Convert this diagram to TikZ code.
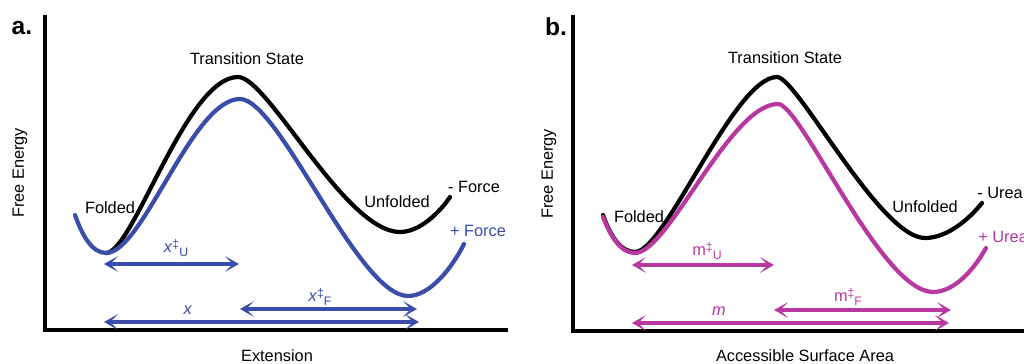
\documentclass[tikz,border=0pt]{standalone}
\usepackage{fontspec}
\setmainfont{Liberation Sans}
\usetikzlibrary{arrows.meta}
\definecolor{fblue}{RGB}{59,77,170}
\definecolor{umag}{RGB}{184,56,160}
\tikzset{
  lbl/.style={inner sep=0pt, font=\fontsize{9.3}{11}\selectfont},
  panel/.style={inner sep=0pt, font=\fontsize{14}{16}\selectfont\bfseries},
  axis/.style={line width=2.6pt, line join=miter},
  curve/.style={line width=2.4pt, line cap=round},
  dim/.style={line width=2.2pt, {Stealth[length=8pt,width=9pt,inset=4.5pt]}-{Stealth[length=8pt,width=9pt,inset=4.5pt]}},
}
\newcommand{\dg}[2]{#1\raisebox{0.55ex}{\fontsize{7}{8}\selectfont ‡}\raisebox{-0.45ex}{\fontsize{7}{8}\selectfont #2}}
\begin{document}
\begin{tikzpicture}[x=0.02cm,y=-0.02cm]
\useasboundingbox (0,0) rectangle (1024,364);
\fill[white] (0,0) rectangle (1024,364);

% ---------- panel a ----------
\node[panel] (pa) at (22,28) {a.};
\draw[axis] (45,15) -- (45,330) -- (508,330);
\node[lbl, rotate=90] (fea) at (20,173) {Free Energy};
\node[lbl] (exa) at (277,356) {Extension};
\node[lbl] (tsa) at (247,59) {Transition State};
\node[lbl] (foa) at (110,208) {Folded};
\node[lbl] (una) at (397,202) {Unfolded};
\node[lbl] (mfa) at (474,187) {- Force};
\node[lbl, text=fblue] (pfa) at (478,231) {+ Force};

\draw[curve] (106,253) .. controls (133,253) and (186,77) .. (238,77)
  .. controls (268,77) and (345,232) .. (400,232)
  .. controls (420,232) and (440,212) .. (450,197);
\draw[curve, fblue] (75,215) .. controls (82,235) and (92,253) .. (106,253)
  .. controls (143,253) and (192,99) .. (240,99)
  .. controls (279,99) and (358,296) .. (408,296)
  .. controls (430,296) and (452,268) .. (464,244);

\coordinate (aU1) at (104,264);
\coordinate (aU2) at (239,264);
\coordinate (aF1) at (240,309);
\coordinate (aF2) at (417,309);
\coordinate (aX1) at (104,322);
\coordinate (aX2) at (419,322);
\draw[dim, fblue] (aU1) -- (aU2);
\draw[dim, fblue] (aF1) -- (aF2);
\draw[dim, fblue] (aX1) -- (aX2);
\node[lbl, text=fblue] (lxu) at (176,248) {\dg{\textit{x}}{U}};
\node[lbl, text=fblue] (lxf) at (320,297) {\dg{\textit{x}}{F}};
\node[lbl, text=fblue] (lx) at (188,310) {\textit{x}};

% ---------- panel b ----------
\node[panel] (pb) at (556,27) {b.};
\draw[axis] (573,15) -- (573,331) -- (1030,331);
\node[lbl, rotate=90] (feb) at (549,174) {Free Energy};
\node[lbl] (exb) at (805,356) {Accessible Surface Area};
\node[lbl] (tsb) at (785,58) {Transition State};
\node[lbl] (fob) at (639,217) {Folded};
\node[lbl] (unb) at (925,207) {Unfolded};
\node[lbl, anchor=west] (mub) at (977,193) {- Urea};
\node[lbl, anchor=west, text=umag] (pub) at (978,237) {+ Urea};

\draw[curve] (603,215) .. controls (610,235) and (620,252) .. (635,252)
  .. controls (665,252) and (734,77) .. (777,77)
  .. controls (797,77) and (880,238) .. (925,238)
  .. controls (948,238) and (970,218) .. (982,203);
\draw[curve, umag] (603,217) .. controls (610,235) and (620,253) .. (635,253)
  .. controls (668,253) and (730,104) .. (778,104)
  .. controls (801,104) and (881,292) .. (933,292)
  .. controls (955,292) and (975,268) .. (986,248);

\coordinate (bU1) at (632,265);
\coordinate (bU2) at (774,265);
\coordinate (bF1) at (774,310);
\coordinate (bF2) at (951,310);
\coordinate (bM1) at (632,323);
\coordinate (bM2) at (949,323);
\draw[dim, umag] (bU1) -- (bU2);
\draw[dim, umag] (bF1) -- (bF2);
\draw[dim, umag] (bM1) -- (bM2);
\node[lbl, text=umag] (lmu) at (707,251) {\dg{m}{U}};
\node[lbl, text=umag] (lmf) at (848,297) {\dg{m}{F}};
\node[lbl, text=umag] (lm) at (719,311) {\textit{m}};
\end{tikzpicture}
\end{document}
